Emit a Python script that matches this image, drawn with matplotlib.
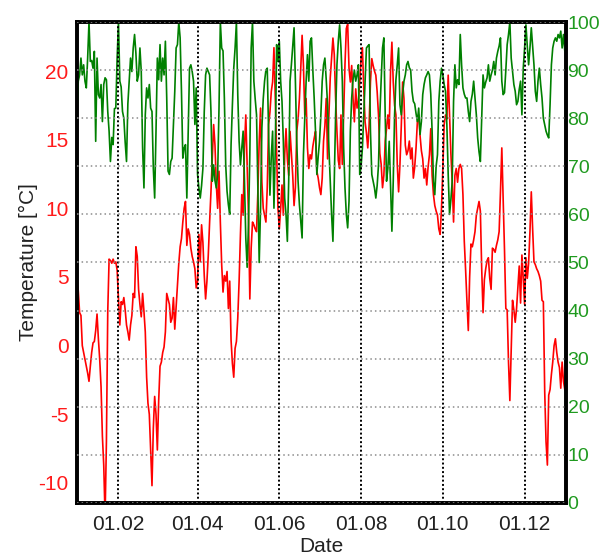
import numpy as np
import pandas as pd
import matplotlib
matplotlib.use("Agg")
import matplotlib.pyplot as plt
import matplotlib.dates as mdates

# daily mean temperature [°C], 1 Jan .. 31 Dec
temperature = [
    4.8, 4.0, 2.4, 2.2, 0.0, -0.5, -1.0, -1.5, -2.0, -2.6,
    -1.5, -0.5, 0.2, 0.3, 1.1, 2.3, 0.5, -1.0, -3.0, -6.6,
    -8.7, -12.5, -7.0, 2.5, 6.3, 6.2, 6.0, 6.3, 6.0, 6.1,
    5.5, 3.4, 1.5, 3.2, 3.0, 3.5, 2.6, 1.5, 1.0, 0.4,
    1.5, 2.2, 3.8, 3.5, 7.2, 6.5, 4.1, 3.0, 2.1, 3.8,
    2.5, 1.0, -2.3, -4.2, -5.0, -7.6, -10.2, -6.0, -3.7, -5.0,
    -7.6, -4.0, -1.5, -1.2, -0.5, -0.1, 1.0, 3.8, 3.4, 3.0,
    1.7, 2.0, 3.5, 1.2, 2.8, 4.5, 6.0, 7.2, 7.8, 9.0,
    10.0, 10.5, 7.3, 8.5, 8.1, 7.1, 6.5, 6.1, 5.6, 4.2,
    4.7, 8.1, 6.1, 8.8, 7.5, 5.1, 3.4, 4.7, 6.6, 9.0,
    11.2, 13.6, 16.1, 14.6, 11.7, 10.0, 12.7, 9.0, 5.9, 3.9,
    5.1, 4.7, 5.4, 2.7, 4.7, 0.4, -1.3, -2.3, -0.2, 0.3,
    2.0, 4.7, 8.1, 11.0, 9.5, 14.4, 16.8, 13.2, 9.5, 3.4,
    7.1, 9.0, 8.8, 8.5, 8.3, 11.2, 14.9, 17.3, 11.9, 10.0,
    9.5, 9.0, 11.5, 16.1, 17.0, 18.5, 19.2, 21.7, 18.0, 13.9,
    10.0, 8.5, 10.0, 11.7, 9.5, 13.9, 15.8, 13.6, 12.4, 15.6,
    14.0, 12.4, 10.2, 11.5, 15.6, 16.5, 18.0, 20.2, 22.6, 20.4,
    16.8, 18.0, 14.4, 12.9, 13.9, 13.6, 14.5, 15.1, 15.6, 12.7,
    12.2, 11.5, 11.0, 12.2, 14.9, 16.0, 18.0, 13.6, 16.8, 19.5,
    20.9, 22.4, 21.2, 18.0, 15.6, 13.5, 12.9, 16.8, 13.2, 17.0,
    20.5, 23.1, 23.4, 20.2, 19.2, 20.4, 18.0, 16.3, 18.7, 17.3,
    17.8, 19.2, 20.9, 21.7, 18.7, 16.3, 15.5, 14.4, 16.1, 19.2,
    20.9, 20.4, 20.0, 19.7, 18.5, 16.8, 14.0, 13.2, 11.5, 12.4,
    14.9, 15.8, 16.8, 15.8, 20.0, 22.1, 19.2, 17.5, 16.8, 13.2,
    11.2, 13.2, 16.0, 19.2, 18.0, 14.6, 13.9, 14.2, 14.9, 13.6,
    14.4, 12.2, 13.0, 14.4, 16.3, 16.8, 15.3, 14.2, 13.6, 12.2,
    12.9, 11.7, 13.0, 13.9, 15.8, 12.4, 11.0, 10.2, 9.8, 9.5,
    8.5, 8.1, 10.0, 12.9, 16.1, 16.8, 16.5, 19.7, 16.8, 14.0,
    11.9, 9.0, 12.4, 12.9, 11.9, 12.9, 13.2, 12.9, 11.0, 7.6,
    5.5, 3.2, 1.1, 5.0, 7.4, 7.2, 7.7, 8.3, 9.5, 10.0,
    10.5, 9.8, 5.6, 2.4, 4.8, 5.6, 6.2, 6.4, 4.9, 4.1,
    7.1, 7.0, 6.8, 7.3, 7.7, 8.3, 11.2, 14.4, 10.7, 7.0,
    2.7, 2.6, -1.2, -4.0, -0.3, 3.3, 2.6, 1.7, 2.7, 4.2,
    5.8, 3.1, 6.6, 4.9, 3.0, 6.4, 4.9, 6.0, 8.3, 11.2,
    8.5, 6.1, 5.9, 5.6, 5.4, 5.1, 4.7, 3.3, 3.2, -3.3,
    -7.0, -8.7, -3.6, -3.2, -2.1, -1.2, 0.0, 0.5, -0.5, -1.2,
    -1.6, -3.1, -1.2, -2.6, -3.2,
]

# daily mean relative humidity [%]
humidity = [
    81.0, 87.7, 89.0, 92.5, 89.0, 91.1, 87.7, 86.3, 92.5, 100.0,
    91.8, 92.0, 90.4, 93.9, 75.2, 92.5, 84.9, 84.2, 87.0, 79.3,
    87.0, 88.4, 88.0, 81.4, 77.3, 71.0, 76.0, 74.5, 82.0, 82.1,
    92.5, 100.0, 87.7, 86.5, 81.4, 80.0, 75.0, 71.0, 83.0, 87.7,
    92.5, 89.7, 94.6, 97.4, 93.5, 87.7, 89.0, 94.6, 89.7, 73.8,
    65.5, 80.7, 86.3, 84.2, 87.0, 82.1, 81.4, 69.6, 63.4, 77.3,
    92.5, 88.0, 95.3, 87.7, 92.5, 89.0, 96.0, 84.2, 69.0, 68.3,
    71.0, 71.7, 78.7, 85.6, 94.6, 95.3, 100.0, 96.7, 85.6, 71.7,
    73.8, 74.5, 63.4, 76.6, 90.4, 91.1, 89.7, 87.7, 78.7, 86.3,
    68.3, 65.5, 63.4, 66.0, 69.6, 81.4, 89.0, 90.4, 89.7, 89.0,
    81.4, 66.9, 70.3, 67.0, 65.5, 68.3, 82.1, 100.0, 94.6, 94.0,
    84.2, 70.3, 64.8, 62.0, 60.0, 74.5, 82.8, 90.4, 94.6, 100.0,
    84.9, 75.2, 70.3, 73.8, 77.3, 66.9, 55.0, 49.0, 57.9, 72.4,
    94.6, 100.0, 87.7, 84.0, 80.7, 65.0, 50.0, 61.3, 78.0, 84.0,
    87.7, 90.0, 90.4, 77.3, 64.0, 72.0, 77.3, 61.3, 73.8, 95.3,
    91.8, 96.0, 87.7, 83.5, 75.2, 63.4, 60.0, 54.4, 66.9, 87.7,
    91.1, 95.0, 98.8, 87.7, 75.2, 66.9, 62.0, 58.6, 55.1, 72.4,
    80.0, 87.7, 93.2, 87.7, 96.0, 96.7, 90.0, 84.2, 77.3, 68.3,
    72.0, 75.2, 80.7, 87.7, 91.1, 92.5, 88.0, 82.8, 73.8, 66.9,
    60.0, 54.4, 66.9, 80.7, 91.1, 96.0, 99.4, 94.6, 87.7, 73.8,
    65.5, 60.0, 57.2, 62.7, 77.3, 84.2, 88.0, 90.0, 87.7, 89.0,
    91.1, 68.3, 70.0, 73.8, 80.7, 87.7, 94.6, 95.0, 95.3, 77.3,
    68.3, 66.9, 65.5, 63.4, 66.0, 70.3, 80.7, 88.0, 94.6, 96.7,
    80.7, 66.9, 69.6, 75.2, 66.0, 56.5, 66.9, 80.7, 88.0, 91.1,
    94.6, 82.8, 80.7, 85.0, 87.7, 89.0, 91.1, 91.8, 90.5, 90.0,
    85.6, 83.5, 83.0, 81.0, 79.3, 82.1, 76.6, 79.3, 84.9, 87.0,
    88.4, 89.0, 89.7, 89.0, 85.0, 77.3, 66.9, 64.1, 70.0, 72.4,
    83.5, 87.7, 90.4, 89.0, 87.0, 85.6, 78.7, 68.3, 60.0, 63.0,
    66.9, 83.5, 91.1, 86.3, 88.0, 87.0, 97.4, 91.1, 86.3, 85.0,
    84.2, 84.2, 81.4, 79.3, 83.5, 85.0, 87.7, 84.2, 80.7, 75.9,
    73.0, 71.0, 80.0, 89.0, 86.3, 87.5, 88.4, 91.1, 87.7, 89.0,
    90.0, 91.8, 89.0, 92.5, 93.9, 95.0, 96.7, 87.7, 84.9, 85.3,
    90.0, 95.3, 97.4, 100.0, 92.5, 89.7, 87.0, 85.6, 82.8, 83.5,
    86.0, 87.7, 80.7, 90.4, 94.6, 99.4, 95.0, 91.1, 94.6, 98.8,
    95.0, 91.1, 85.6, 83.5, 87.7, 90.4, 87.0, 84.2, 80.0, 78.7,
    77.3, 76.5, 75.9, 82.8, 91.1, 94.6, 96.0, 96.7, 96.0, 97.4,
    96.7, 98.1, 94.6, 97.4, 94.0,
]

temp_ticks = [-10, -5, 0, 5, 10, 15, 20]
hum_ticks = [0, 10, 20, 30, 40, 50, 60, 70, 80, 90, 100]

dates = pd.date_range("2009-01-01", periods=len(temperature), freq="D")

plt.rcParams["font.family"] = ["Liberation Sans", "DejaVu Sans"]
plt.rcParams["font.size"] = 15
plt.rcParams["axes.unicode_minus"] = False

fig = plt.figure(figsize=(6.01, 5.57), dpi=100)
ax = fig.add_axes([0.128, 0.097, 0.814, 0.8635])
ax2 = ax.twinx()

ax.plot(dates, temperature, color="#ff0000", lw=1.2)
ax2.plot(dates, humidity, color="#008000", lw=1.2)

ax.set_xlim(pd.Timestamp("2009-01-01"), pd.Timestamp("2010-01-01"))
ax.set_ylim(-11.46, 23.57)
ax2.set_ylim(0, 100)

ax.set_yticks(temp_ticks)
ax2.set_yticks(hum_ticks)
ax.xaxis.set_major_locator(mdates.MonthLocator(bymonth=[2, 4, 6, 8, 10, 12]))
ax.xaxis.set_major_formatter(mdates.DateFormatter("%d.%m"))

ax.tick_params(axis="y", length=0, pad=6, labelcolor="#ff1a1a")
ax.tick_params(axis="x", length=0, pad=9, labelcolor="#222222")
ax2.tick_params(axis="y", length=0, pad=1, labelcolor="#1f9a1f", labelsize=14)

# grid drawn on the top axes so it sits over both traces
ax2.xaxis.set_visible(True)
ax2.tick_params(axis="x", length=0, labelbottom=False, labeltop=False)
ax2.set_axisbelow(False)
ax2.grid(axis="y", color="#8c8c8c", linestyle=(0, (1, 2)), lw=1.1)
ax2.grid(axis="x", color="black", linestyle=(0, (1, 1.2)), lw=1.4)

for a in (ax, ax2):
    for s in a.spines.values():
        s.set_linewidth(2.6)
        s.set_color("black")

ax.set_xlabel("Date", labelpad=2, color="#222222")
ax.set_ylabel("Temperature [°C]", labelpad=0, color="#222222")

fig.savefig("out.png", dpi=100)
